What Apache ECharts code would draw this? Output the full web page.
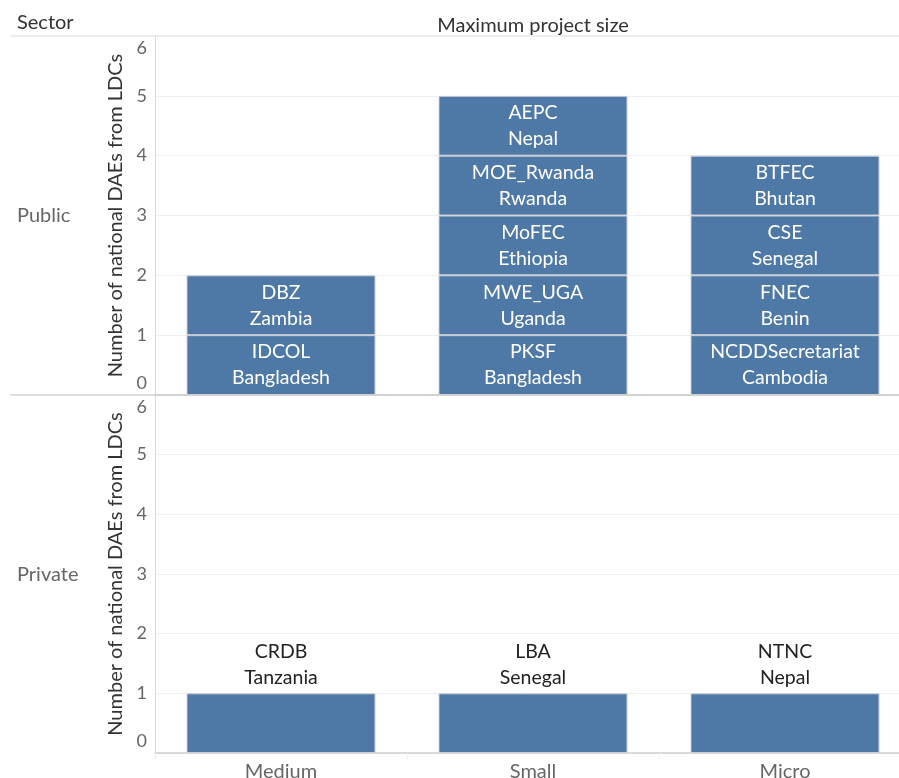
<!DOCTYPE html>
<html><head><meta charset="utf-8">
<script src="https://cdn.jsdelivr.net/npm/echarts@6/dist/echarts.min.js"></script>
<style>html,body{margin:0;padding:0;background:#fff}#c{width:899px;height:778px}</style>
</head><body><div id="c"></div>
<script>
const categories = ['Medium', 'Small', 'Micro'];
const yTicks = [0, 1, 2, 3, 4, 5, 6];
// Public sector: stacked levels (bottom to top), one entry per category; '' = no segment
const publicLevel1 = ['IDCOL\nBangladesh', 'PKSF\nBangladesh', 'NCDDSecretariat\nCambodia'];
const publicLevel2 = ['DBZ\nZambia', 'MWE_UGA\nUganda', 'FNEC\nBenin'];
const publicLevel3 = ['', 'MoFEC\nEthiopia', 'CSE\nSenegal'];
const publicLevel4 = ['', 'MOE_Rwanda\nRwanda', 'BTFEC\nBhutan'];
const publicLevel5 = ['', 'AEPC\nNepal', ''];
// Private sector
const privateLevel1 = ['CRDB\nTanzania', 'LBA\nSenegal', 'NTNC\nNepal'];

const FONT = 'Lato, "Open Sans", sans-serif';
const BAR = '#4e79a7';

function levelSeries(names, gridIdx, stack, labelPos, labelColor) {
  return {
    type: 'bar', xAxisIndex: gridIdx, yAxisIndex: gridIdx, stack: stack,
    barWidth: '75%',
    data: names.map(n => n === '' ? null : { value: 1, name: n }),
    itemStyle: { color: BAR, borderColor: '#c9ced6', borderWidth: 1 },
    label: {
      show: true, position: labelPos, distance: 3,
      formatter: p => p.data ? p.data.name : '',
      color: labelColor, fontFamily: FONT, fontSize: 19.5, lineHeight: 26
    },
    emphasis: { disabled: true }, animation: false
  };
}

function yAxis(gridIdx) {
  return {
    type: 'value', gridIndex: gridIdx, min: 0, max: 6, interval: 1,
    name: 'Number of national DAEs from LDCs', nameLocation: 'middle', nameGap: 28,
    nameTextStyle: { fontFamily: FONT, fontSize: 20, color: '#333' },
    axisLine: { show: true, lineStyle: { color: '#dcdcdc' } },
    axisTick: { show: false },
    axisLabel: {
      fontFamily: FONT, fontSize: 18, color: '#666', margin: 8,
      verticalAlignMaxLabel: 'top', verticalAlignMinLabel: 'bottom',
      formatter: v => {
        if (!yTicks.includes(v)) return '';
        if (v === 6) return '{t|6}';
        if (v === 0) return '{b|0}';
        return String(v);
      },
      rich: {
        t: { fontFamily: FONT, fontSize: 18, color: '#666', padding: [3, 0, 0, 0] },
        b: { fontFamily: FONT, fontSize: 18, color: '#666', padding: [0, 0, 3, 0] }
      }
    },
    splitLine: { show: true, lineStyle: { color: '#efefef' } }
  };
}

function xAxis(gridIdx, showLabels) {
  return {
    type: 'category', gridIndex: gridIdx, data: categories,
    axisLine: { show: true, lineStyle: { color: '#d0d0d0', width: 1.5 } },
    axisTick: { show: showLabels, length: 6, lineStyle: { color: '#eeeeee' } },
    axisLabel: { show: showLabels, fontFamily: FONT, fontSize: 20, color: '#666', margin: 9 }
  };
}

const chart = echarts.init(document.getElementById('c'), null, { renderer: 'canvas' });
chart.setOption({
  backgroundColor: '#fff',
  animation: false,
  grid: [
    { left: 155, width: 756, top: 36, height: 359, outerBoundsMode: 'none', containLabel: false },
    { left: 155, width: 756, top: 395, height: 358, outerBoundsMode: 'none', containLabel: false }
  ],
  xAxis: [xAxis(0, false), xAxis(1, true)],
  yAxis: [yAxis(0), yAxis(1)],
  title: [
    { text: 'Sector', left: 12, top: 8, textStyle: { fontFamily: FONT, fontSize: 20, fontWeight: 'normal', color: '#333' } },
    { text: 'Maximum project size', left: 528, textAlign: 'center', top: 11, textStyle: { fontFamily: FONT, fontSize: 20, fontWeight: 'normal', color: '#333' } },
    { text: 'Public', left: 12, top: 201, textStyle: { fontFamily: FONT, fontSize: 20, fontWeight: 'normal', color: '#666' } },
    { text: 'Private', left: 12, top: 560, textStyle: { fontFamily: FONT, fontSize: 20, fontWeight: 'normal', color: '#666' } }
  ],
  graphic: [
    { type: 'line', shape: { x1: 10, y1: 36, x2: 899, y2: 36 }, style: { stroke: '#dcdcdc', lineWidth: 1 } },
    { type: 'line', shape: { x1: 10, y1: 395, x2: 899, y2: 395 }, style: { stroke: '#d0d0d0', lineWidth: 1.5 }, z: 10 }
  ],
  series: [
    levelSeries(publicLevel1, 0, 'pub', 'inside', '#fff'),
    levelSeries(publicLevel2, 0, 'pub', 'inside', '#fff'),
    levelSeries(publicLevel3, 0, 'pub', 'inside', '#fff'),
    levelSeries(publicLevel4, 0, 'pub', 'inside', '#fff'),
    levelSeries(publicLevel5, 0, 'pub', 'inside', '#fff'),
    levelSeries(privateLevel1, 1, 'priv', 'top', '#222')
  ]
});
</script></body></html>
